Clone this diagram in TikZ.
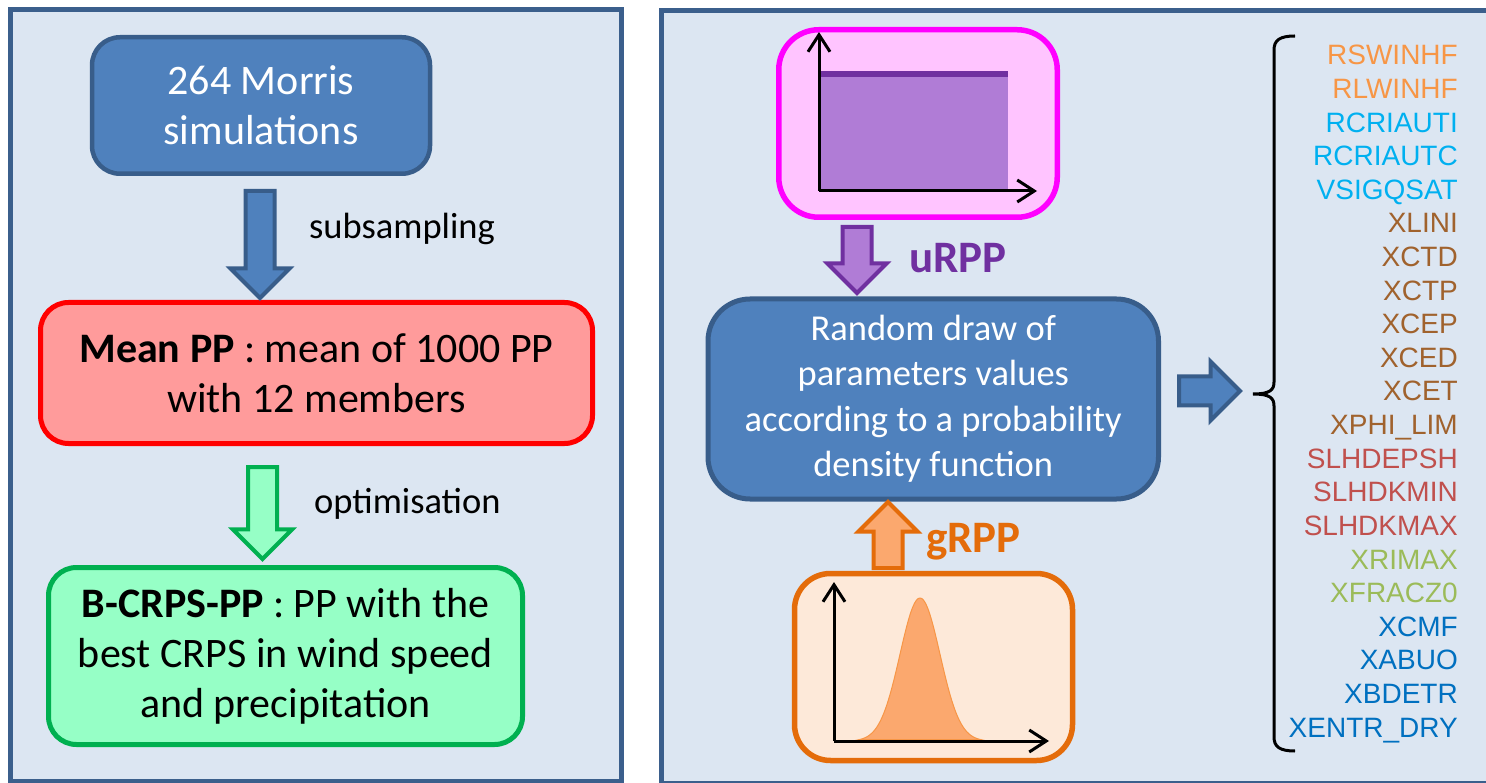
\documentclass[tikz,border=0pt]{standalone}
\usepackage{fontspec}
\setmainfont{Carlito}
\newfontfamily\arialfont{Liberation Sans}
\usetikzlibrary{arrows.meta,shapes.arrows}
\definecolor{panelfill}{HTML}{DCE6F2}
\definecolor{panelline}{HTML}{3B5F8C}
\definecolor{morrisfill}{HTML}{4F81BD}
\definecolor{morrisline}{HTML}{385D8A}
\definecolor{meanfill}{HTML}{FF9B9B}
\definecolor{meanline}{HTML}{FF0000}
\definecolor{bestfill}{HTML}{96FFC6}
\definecolor{bestline}{HTML}{00B050}
\definecolor{pinkfill}{HTML}{FFC4FF}
\definecolor{pinkline}{HTML}{FF00FF}
\definecolor{unifill}{HTML}{B07CD6}
\definecolor{uniline}{HTML}{7030A0}
\definecolor{gaussbox}{HTML}{FDE9D9}
\definecolor{gaussline}{HTML}{E46C0A}
\definecolor{gaussfill}{HTML}{FBA86E}
\definecolor{gaussedge}{HTML}{F79646}
\definecolor{orgtxt}{HTML}{F79646}
\definecolor{cyantxt}{HTML}{00B0F0}
\definecolor{browntxt}{HTML}{A0622D}
\definecolor{redtxt}{HTML}{C0504D}
\definecolor{greentxt}{HTML}{9BBB59}
\definecolor{bluetxt}{HTML}{0070C0}
\newcommand{\bigtxt}{\fontsize{42}{50}\selectfont}
\newcommand{\midtxt}{\fontsize{36.5}{45.5}\selectfont}
\newcommand{\lbltxt}{\fontsize{36.5}{44}\selectfont}
\newcommand{\tagtxt}{\fontsize{45}{54}\selectfont\bfseries}
\newcommand{\parmtxt}{\arialfont\fontsize{28}{33.6}\selectfont}
\tikzset{
  panel/.style={draw=panelline, fill=panelfill, line width=5pt},
  box/.style={rounded corners=28pt, align=center, inner sep=0pt, font=\bigtxt},
  morrisbox/.style={box, draw=morrisline, fill=morrisfill, line width=4.5pt, text=white},
  meanbox/.style={box, draw=meanline, fill=meanfill, line width=5pt},
  bestbox/.style={box, draw=bestline, fill=bestfill, line width=5pt},
  drawbox/.style={box, rounded corners=42pt, draw=morrisline, fill=morrisfill, line width=5pt, text=white, font=\midtxt},
  pdfbox/.style={rounded corners=40pt, inner sep=0pt, line width=5.5pt},
  blockarrow/.style={single arrow, single arrow head extend=15pt, single arrow head indent=0pt, inner sep=0pt, inner ysep=12.5pt, line width=4pt},
  axis/.style={-{Straight Barb[length=17pt,width=22pt]}, line width=3pt},
  lbl/.style={anchor=base west, inner sep=0pt, font=\lbltxt},
  tag/.style={anchor=base west, inner sep=0pt, font=\tagtxt},
  parm/.style={anchor=base east, inner sep=0pt, font=\parmtxt}
}

\begin{document}
\begin{tikzpicture}[x=1pt, y=-1pt]
\clip (0,0) rectangle (1486,783);
\draw[panel] (10.5,9.5) rectangle (621.5,781);
\draw[panel] (661,11) rectangle (1530,783);
\node[morrisbox, minimum width=338pt, minimum height=136.5pt] (morris) at (261,105.5) {264 Morris\\simulations};
\node[meanbox, minimum width=552pt, minimum height=141pt] (meanpp) at (316.5,373) {\textbf{Mean PP} : mean of 1000 PP\\with 12 members};
\node[bestbox, minimum width=474pt, minimum height=177pt] (bestpp) at (285.5,656) {\textbf{B-CRPS-PP} : PP with the\\best CRPS in wind speed\\and precipitation};
\node[blockarrow, draw=morrisline, fill=morrisfill, minimum height=107pt, rotate=-90, anchor=tail] (subarrow) at (260,189) {};
\node[lbl] (sublbl) at (309,239) {subsampling};
\node[blockarrow, draw=bestline, fill=bestfill, minimum height=92pt, rotate=-90, anchor=tail] (optarrow) at (262.5,465) {};
\node[lbl] (optlbl) at (314,513) {optimisation};
\node[pdfbox, draw=pinkline, fill=pinkfill, minimum width=278.5pt, minimum height=187.5pt] (unibox) at (918,123.5) {};
\fill[unifill] (819,74) rectangle (1008,191);
\draw[uniline, line width=6pt] (819,74) -- (1008,74);
\draw[axis] (819,191) -- (819,32);
\draw[axis] (819,191) -- (1037,191);
\node[drawbox, minimum width=450.5pt, minimum height=200pt] (draw) at (933.25,399) {Random draw of\\parameters values\\according to a probability\\density function};
\node[blockarrow, draw=uniline, fill=unifill, minimum height=66pt, rotate=-90, anchor=tail] (uarrow) at (857,225) {};
\node[tag, text=uniline] (utag) at (909,273) {uRPP};
\node[pdfbox, rounded corners=36pt, draw=gaussline, fill=gaussbox, minimum width=278pt, minimum height=187pt] (gaussbox) at (933.5,667) {};
\fill[gaussfill, draw=gaussedge, line width=1pt] plot[domain=859:981, samples=80, smooth] (\x,{741-143*exp(-((\x-920)/20)^2/2)}) -- cycle;
\draw[axis] (834,741) -- (834,582);
\draw[axis] (834,741) -- (1049,741);
\node[blockarrow, draw=gaussline, fill=gaussfill, minimum height=66pt, rotate=90, anchor=tail] (garrow) at (888,570) {};
\node[tag, text=gaussline] (gtag) at (926,552) {gRPP};
\node[blockarrow, draw=morrisline, fill=morrisfill, minimum height=61pt, anchor=tail] (outarrow) at (1177,391) {};
\draw[line width=3pt] (1295,36) .. controls (1280,36) and (1274,40) .. (1274,50) -- (1274,382) .. controls (1274,390) and (1270,394) .. (1253,394) .. controls (1270,394) and (1274,398) .. (1274,406) -- (1274,737) .. controls (1274,747) and (1280,751) .. (1295,751);
\foreach \nm/\cl [count=\i from 0] in {RSWINHF/orgtxt, RLWINHF/orgtxt, RCRIAUTI/cyantxt, RCRIAUTC/cyantxt, VSIGQSAT/cyantxt, XLINI/browntxt, XCTD/browntxt, XCTP/browntxt, XCEP/browntxt, XCED/browntxt, XCET/browntxt, XPHI\_LIM/browntxt, SLHDEPSH/redtxt, SLHDKMIN/redtxt, SLHDKMAX/redtxt, XRIMAX/greentxt, XFRACZ0/greentxt, XCMF/bluetxt, XABUO/bluetxt, XBDETR/bluetxt, XENTR\_DRY/bluetxt}
  \node[parm, text=\cl] (p\i) at (1458,{65+33.6*\i}) {\nm};
\end{tikzpicture}
\end{document}
